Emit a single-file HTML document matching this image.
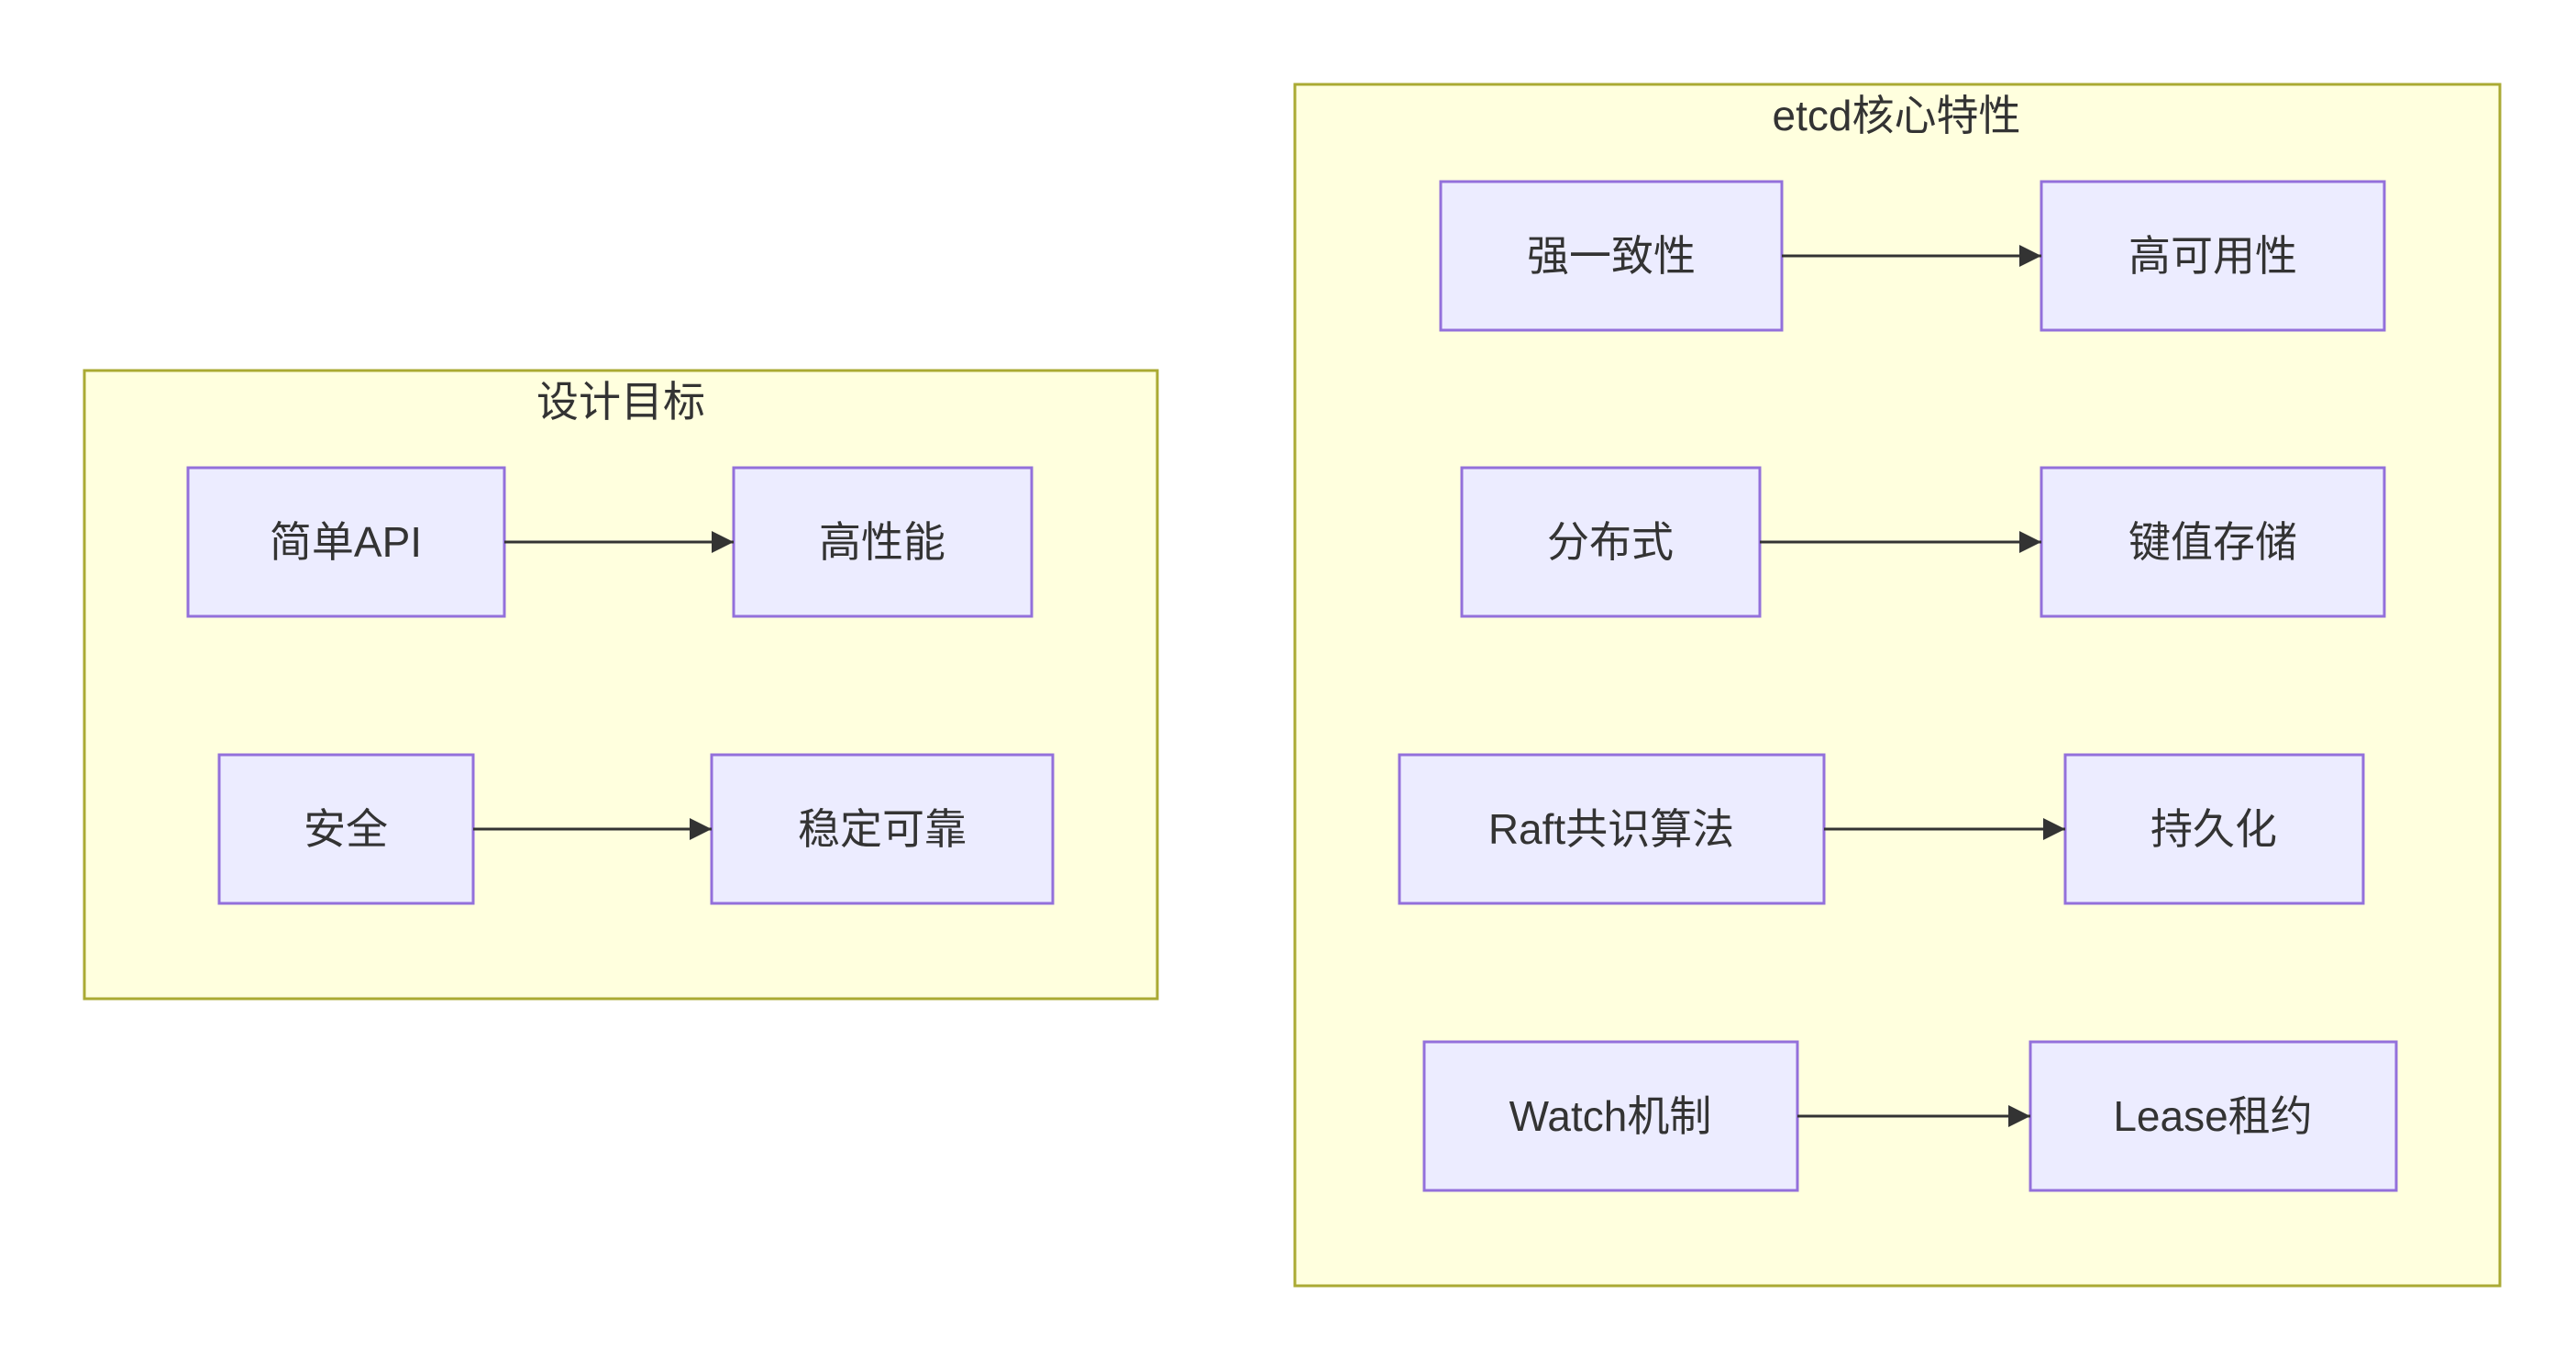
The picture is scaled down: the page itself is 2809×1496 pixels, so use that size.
<!DOCTYPE html>
<html><head><meta charset="utf-8"><style>
body{margin:0;background:#fff;width:2809px;height:1491px;overflow:hidden}
</style></head><body>
<svg width="2809" height="1491" xmlns="http://www.w3.org/2000/svg" font-family="'Liberation Sans','Noto Sans CJK SC',sans-serif">
<defs><marker id="a" viewBox="0 0 10 10" refX="9" refY="5" markerWidth="8" markerHeight="8" markerUnits="userSpaceOnUse" orient="auto"><path d="M0,0L10,5L0,10z" fill="#333"/></marker>
<marker id="b" viewBox="0 0 10 10" refX="10" refY="5" markerWidth="24" markerHeight="24" markerUnits="userSpaceOnUse" orient="auto"><path d="M0,0L10,5L0,10z" fill="#333"/></marker></defs>
<g fill="#ffffde" stroke="#aaaa33" stroke-width="3">
<rect x="92" y="404" width="1170" height="685"/>
<rect x="1412" y="92" width="1314" height="1310"/>
</g>
<g font-size="46" fill="#333" text-anchor="middle" dominant-baseline="central">
<text x="677" y="438">设计目标</text>
<text x="2068" y="126">etcd核心特性</text>
</g>
<g fill="#ececff" stroke="#9370db" stroke-width="3">
<rect x="205" y="510" width="345" height="162"/>
<rect x="800" y="510" width="325" height="162"/>
<rect x="239" y="823" width="277" height="162"/>
<rect x="776" y="823" width="372" height="162"/>
<rect x="1571" y="198" width="372" height="162"/>
<rect x="2226" y="198" width="374" height="162"/>
<rect x="1594" y="510" width="325" height="162"/>
<rect x="2226" y="510" width="374" height="162"/>
<rect x="1526" y="823" width="463" height="162"/>
<rect x="2252" y="823" width="325" height="162"/>
<rect x="1553" y="1136" width="407" height="162"/>
<rect x="2214" y="1136" width="399" height="162"/>
</g>
<g stroke="#333" stroke-width="3" marker-end="url(#b)">
<line x1="550" y1="591" x2="800" y2="591"/>
<line x1="516" y1="904" x2="776" y2="904"/>
<line x1="1943" y1="279" x2="2226" y2="279"/>
<line x1="1919" y1="591" x2="2226" y2="591"/>
<line x1="1989" y1="904" x2="2252" y2="904"/>
<line x1="1960" y1="1217" x2="2214" y2="1217"/>
</g>
<g font-size="46" fill="#333" text-anchor="middle" dominant-baseline="central">
<text x="377" y="591">简单API</text>
<text x="962" y="591">高性能</text>
<text x="377" y="904">安全</text>
<text x="962" y="904">稳定可靠</text>
<text x="1757" y="279">强一致性</text>
<text x="2413" y="279">高可用性</text>
<text x="1756" y="591">分布式</text>
<text x="2413" y="591">键值存储</text>
<text x="1757" y="904">Raft共识算法</text>
<text x="2414" y="904">持久化</text>
<text x="1756" y="1217">Watch机制</text>
<text x="2413" y="1217">Lease租约</text>
</g>
</svg>
</body></html>
